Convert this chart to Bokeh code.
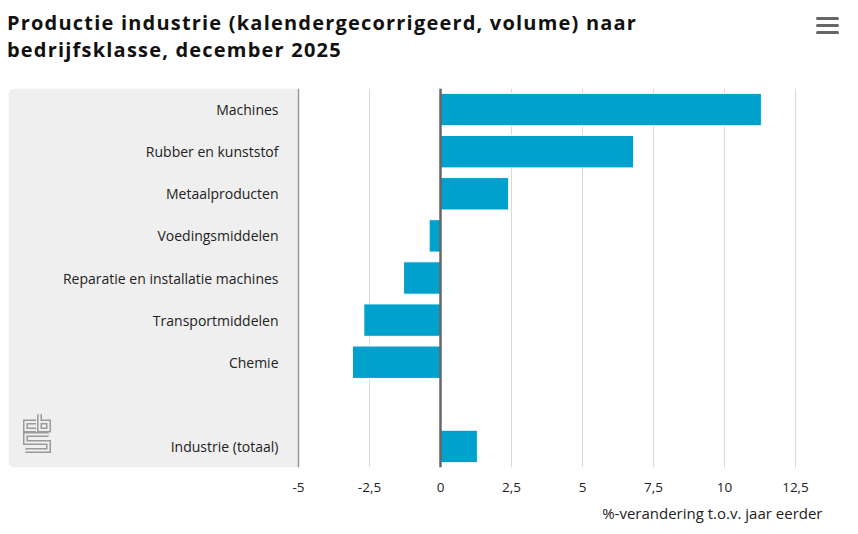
from bokeh.plotting import figure
from bokeh.models import (ColumnDataSource, Range1d, FixedTicker, Span,
                          BoxAnnotation, CustomJSTickFormatter, Title, Div)
from bokeh.layouts import column
from bokeh.core.properties import value
from bokeh.embed import file_html
from bokeh.resources import INLINE

# ---- data ----
categories = ["Machines", "Rubber en kunststof", "Metaalproducten", "Voedingsmiddelen",
              "Reparatie en installatie machines", "Transportmiddelen", "Chemie",
              "", "Industrie (totaal)"]
bar_categories = ["Machines", "Rubber en kunststof", "Metaalproducten", "Voedingsmiddelen",
                  "Reparatie en installatie machines", "Transportmiddelen", "Chemie",
                  "Industrie (totaal)"]
bar_values = [11.3, 6.8, 2.4, -0.4, -1.3, -2.7, -3.1, 1.3]
tick_values = [-5, -2.5, 0, 2.5, 5, 7.5, 10, 12.5]
title_text = "Productie industrie (kalendergecorrigeerd, volume) naar<br>bedrijfsklasse, december 2025"
axis_title = "%-verandering t.o.v. jaar eerder"

FONT = "Open Sans"
BAR_COLOR = "#00a1cd"

n = len(categories)
bar_pos = [n - 1 - categories.index(c) for c in bar_categories]

# ---- header ----
header = Div(
    text=(
        '<div style="position:relative;width:850px;height:70px;">'
        f'<div style="position:absolute;left:2px;top:4px;font-family:\'{FONT}\';font-weight:bold;'
        f'font-size:20px;letter-spacing:1.2px;line-height:27.3px;color:#111;white-space:nowrap;'
        f'margin:0;">{title_text}</div>'
        '<div style="position:absolute;left:811px;top:12px;width:23px;">'
        '<div style="height:3px;background:#666;border-radius:1.5px;margin-bottom:4px"></div>'
        '<div style="height:3px;background:#666;border-radius:1.5px;margin-bottom:4px"></div>'
        '<div style="height:3px;background:#666;border-radius:1.5px;"></div>'
        '</div></div>'
    ),
    width=850, height=70,
)

# ---- figure ----
x_start = -5 - 290 / 28.4
x_end = 12.5 + 27 / 28.4

p = figure(width=850, height=448, output_backend="svg", toolbar_location=None,
           y_range=Range1d(-0.5, n - 0.5),
           x_range=Range1d(x_start, x_end),
           min_border_left=8, min_border_right=28, min_border_top=8, min_border_bottom=60)
p.outline_line_color = None
p.background_fill_color = "white"
p.border_fill_color = "white"

p.extra_x_ranges = {"px": Range1d(8, 822)}
p.extra_y_ranges = {"px": Range1d(468, 88)}

# gray label panel
p.add_layout(BoxAnnotation(right=-5, fill_color="#efefef", fill_alpha=1, line_color=None,
                           border_radius=(6, 0, 0, 6), level="underlay"))

# grid
p.ygrid.visible = False
p.xgrid.ticker = FixedTicker(ticks=tick_values)
p.xgrid.grid_line_color = "#d9d9d9"
p.xgrid.grid_line_width = 1

# bars
src = ColumnDataSource(data=dict(pos=bar_pos, val=bar_values, cat=bar_categories,
                                 x=[-5] * len(bar_categories)))
p.hbar(y="pos", left=0, right="val", height=0.77, source=src,
       fill_color=BAR_COLOR, line_color="white", line_width=1)

# axis lines
p.add_layout(Span(location=-5, dimension="height", line_color="#9a9a9a", line_width=1.5))
p.add_layout(Span(location=0, dimension="height", line_color="#666666", line_width=2.5))

# category labels
p.text(x="x", y="pos", text="cat", source=src, x_offset=-20, text_align="right",
       text_baseline="middle", text_font=value(FONT), text_font_size="14px",
       text_color="#222222")

# CBS logo (decoration) in pixel coordinates
logo_xs = [[35.5, 25, 25, 35.5],
           [39, 39, 48, 48, 39],
           [48, 25, 25, 48, 48, 25]]
logo_ys = [[422.5, 422.5, 430.5, 430.5],
           [414.5, 430.5, 430.5, 422.5, 422.5],
           [435, 435, 443, 443, 451, 451]]
p.multi_line(xs=logo_xs, ys=logo_ys, x_range_name="px", y_range_name="px",
             line_color="#9a9a9a", line_width=5, line_join="miter", line_cap="butt")
p.multi_line(xs=logo_xs, ys=logo_ys, x_range_name="px", y_range_name="px",
             line_color="#efefef", line_width=2, line_join="miter", line_cap="butt")

# axes
p.yaxis.visible = False
xa = p.xaxis[0]
xa.ticker = FixedTicker(ticks=tick_values)
xa.formatter = CustomJSTickFormatter(code="return tick.toString().replace('.', ',');")
xa.axis_line_color = None
xa.major_tick_line_color = None
xa.minor_tick_line_color = None
xa.major_label_standoff = 9
xa.major_label_text_font = FONT
xa.major_label_text_font_size = "13.5px"
xa.major_label_text_color = "#222222"

p.add_layout(Title(text=axis_title, align="right", text_font=FONT, text_font_size="15px",
                   text_font_style="normal", text_color="#222222", standoff=12), "below")

layout = column(header, p, spacing=0)

with open("out.html", "w") as f:
    f.write(file_html(layout, INLINE))
